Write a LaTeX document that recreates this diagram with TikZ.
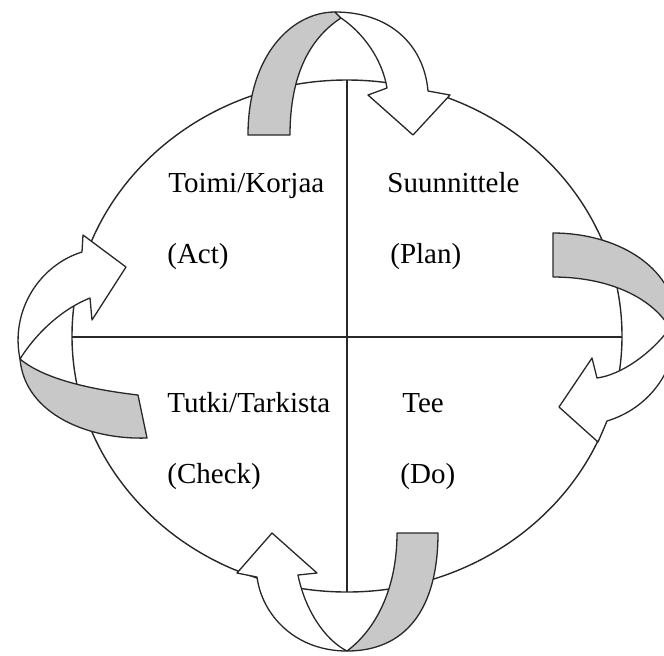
\documentclass[tikz,border=0pt]{standalone}
\usepackage{fontspec}
\setmainfont{Liberation Serif}
\usepackage{tikz,xcolor}

\definecolor{ribbon}{RGB}{200,200,200}
\definecolor{ink}{RGB}{40,40,40}

\begin{document}
\begin{tikzpicture}[x=0.5pt, y=-0.5pt,
    band/.style={draw=ink, line width=0.65pt, line join=round, fill=white},
    backband/.style={band, fill=ribbon},
    lbl/.style={anchor=base west, inner sep=0pt, font=\fontsize{14.5}{17}\selectfont}]

\useasboundingbox (0,0) rectangle (664,655);
\clip (0,0) rectangle (664,655);
\fill[white] (0,0) rectangle (664,655);

% ── CIRCLE AND QUADRANTS ────────────────────────────────────────────
\draw[ink, line width=0.7pt] (347,336) ellipse [x radius=275, y radius=256];
\draw[ink, line width=0.75pt] (347,80) -- (347,592);
\draw[ink, line width=0.75pt] (72,337) -- (622,337);

% Quadrant labels
\node[lbl] (act)    at (168,192) {Toimi/Korjaa};
\node[lbl] (actb)   at (167,263) {(Act)};
\node[lbl] (plan)   at (387,192) {Suunnittele};
\node[lbl] (planb)  at (390,263) {(Plan)};
\node[lbl] (check)  at (167,412) {Tutki/Tarkista};
\node[lbl] (checkb) at (167,483) {(Check)};
\node[lbl] (do)     at (402,412) {Tee};
\node[lbl] (dob)    at (400,483) {(Do)};

% ── U-TURN ARROWS ───────────────────────────────────────────────────
% Top: Act -> Plan
\draw[backband] (248,135) .. controls (248,55) and (292,12) .. (335,12)
    -- (341,18) .. controls (310,38) and (290,75) .. (290,135) -- cycle;
\draw[band] (335,12) .. controls (390,12) and (424,45) .. (428,91)
    -- (450,95) -- (413,135) -- (368,95) -- (387,88)
    .. controls (382,58) and (362,32) .. (341,18) -- cycle;

% Right: Plan -> Do
\draw[backband] (553,233) .. controls (615,233) and (672,265) .. (676,318)
    -- (670,328) .. controls (650,295) and (605,277) .. (553,277) -- cycle;
\draw[band] (676,318) .. controls (680,368) and (650,408) .. (607,421)
    -- (598,442) -- (559,407) -- (592,358) -- (597,378)
    .. controls (620,375) and (650,355) .. (670,328) -- cycle;

% Bottom: Do -> Check
\draw[backband] (397,533) -- (438,533) .. controls (438,610) and (405,651) .. (347,651)
    .. controls (375,630) and (397,590) .. (397,533) -- cycle;
\draw[band] (347,651) .. controls (295,651) and (262,615) .. (257,577)
    -- (237,573) -- (272,533) -- (317,573) -- (298,575)
    .. controls (305,610) and (325,640) .. (347,651) -- cycle;

% Left: Check -> Act
\draw[backband] (138,395) -- (147,438) .. controls (90,440) and (25,415) .. (20,359)
    .. controls (45,380) and (95,390) .. (138,395) -- cycle;
\draw[band] (20,359) .. controls (10,310) and (40,265) .. (82,252)
    -- (83,235) -- (126,267) -- (92,320) -- (90,298)
    .. controls (60,310) and (35,335) .. (20,359) -- cycle;

\end{tikzpicture}
\end{document}
